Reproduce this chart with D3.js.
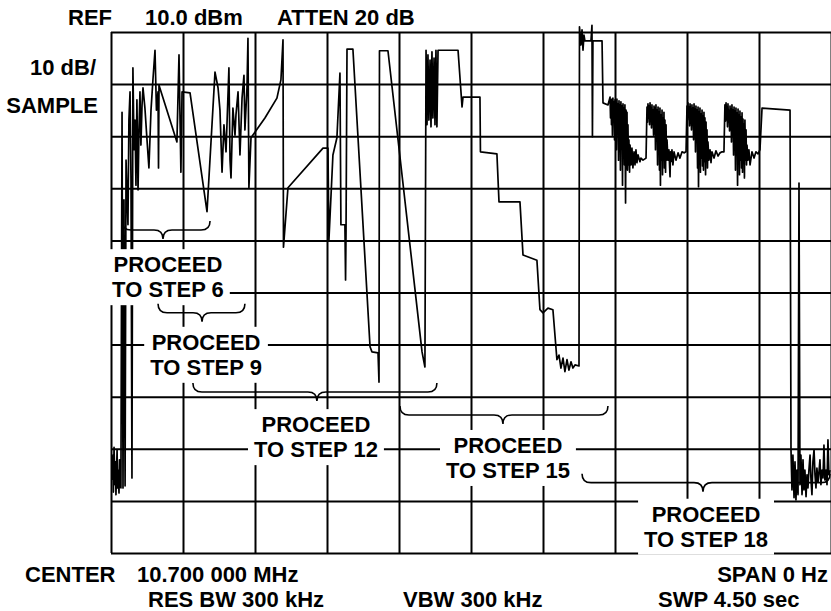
<!DOCTYPE html>
<html>
<head>
<meta charset="utf-8">
<script src="https://cdn.jsdelivr.net/npm/d3@7"></script>
<style>
  html, body { margin: 0; padding: 0; background: #fff; }
  svg { display: block; }
  text { font-family: "Liberation Sans", Arial, Helvetica, sans-serif; font-weight: bold; fill: #000; }
</style>
</head>
<body>
<svg id="chart" width="831" height="611"></svg>
<script>
// ---- Data (time in ms since sweep start, level in dBm) ----
const sweepMs = 4500;          // SWP 4.50 sec
const refLevelDbm = 10;        // REF 10.0 dBm
const dbPerDiv = 10;           // 10 dB/
const divisions = 10;

const headerLabels = ["REF", "10.0 dBm", "ATTEN 20 dB", "10 dB/", "SAMPLE"];
const footerLabels = ["CENTER", "10.700 000 MHz", "SPAN 0 Hz", "RES BW 300 kHz", "VBW 300 kHz", "SWP 4.50 sec"];
const stepLabels = [
  ["PROCEED", "TO STEP 6"],
  ["PROCEED", "TO STEP 9"],
  ["PROCEED", "TO STEP 12"],
  ["PROCEED", "TO STEP 15"],
  ["PROCEED", "TO STEP 18"]
];
// brace spans: [startMs, endMs, tipMs, levelDbm]
const braceSpans = [
  [69, 619, 325, -28.0],
  [294, 837, 569, -43.9],
  [512, 2037, 1287, -59.1],
  [1806, 3106, 2450, -63.5],
  [2944, 4494, 3700, -76.5]
];

const trace = [
  [6,-76.0],[12,-71.2],[15,-78.3],[19,-69.7],[25,-76.9],[28,-72.5],[31,-78.8],[38,-70.2],[41,-77.5],[44,-74.1],
  [50,-78.5],[53,-72.1],[56,-76.9],[62,-77.5],[69,-5.4],[75,-77.5],[81,-22.2],[88,-77.1],[94,-14.6],[106,-27.0],
  [112,-6.9],[119,-1.5],[125,-18.4],[131,-75.6],[137,3.1],[144,-12.6],[150,-6.9],[156,-19.4],[162,-3.0],[169,-20.3],
  [175,-8.8],[181,-1.5],[187,-11.7],[194,-4.0],[200,-0.7],[212,-4.6],[225,-10.7],[237,-16.1],[250,-5.0],[262,0.8],
  [275,6.5],[284,-5.0],[294,-1.5],[297,-16.1],[300,-0.2],[412,-11.1],[425,5.6],[437,-16.9],[444,-1.5],[494,-1.7],
  [600,-24.5],[650,2.3],[669,-0.7],[681,-5.0],[694,-16.9],[706,-7.8],[719,-13.0],[737,3.1],[744,-14.6],[750,-18.0],
  [762,-4.6],[775,-9.8],[781,-5.9],[794,-1.5],[806,-13.6],[819,-2.7],[831,1.7],[837,-8.8],[850,-0.7],[856,8.8],
  [862,-19.9],[875,-10.3],[962,-6.5],[1037,-2.7],[1062,0.8],[1075,8.5],[1078,-31.3],[1106,-19.9],[1325,-12.3],[1356,-12.3],
  [1362,-29.9],[1387,-13.6],[1412,-10.3],[1431,2.1],[1437,-27.0],[1462,-27.0],[1466,-37.6],[1469,-28.0],[1475,6.7],[1512,6.7],
  [1619,-50.4],[1631,-51.4],[1669,-51.6],[1675,-57.2],[1678,6.4],[1731,6.4],[1944,-51.4],[1962,-54.3],[1969,6.5],[1975,-7.8],
  [1981,5.6],[1987,-6.9],[1994,4.6],[2000,-8.2],[2006,6.2],[2012,-6.5],[2019,5.0],[2025,-7.8],[2031,6.5],[2037,-8.2],
  [2044,6.5],[2169,6.5],[2194,-4.4],[2200,-2.5],[2306,-2.5],[2309,-13.0],[2412,-13.4],[2425,-22.6],[2556,-22.6],[2575,-32.8],
  [2662,-33.8],[2681,-43.3],[2700,-43.9],[2731,-43.0],[2762,-43.3],[2787,-52.9],[2800,-52.0],[2812,-54.5],[2825,-52.6],[2837,-55.2],
  [2850,-52.9],[2862,-54.9],[2875,-53.3],[2887,-54.5],[2900,-53.9],[2925,-54.1],[2928,11.0],[2937,7.5],[2944,10.4],[2950,6.5],
  [2956,9.4],[2962,8.3],[3000,8.3],[3006,11.3],[3009,-10.1],[3012,8.3],[3069,8.3],[3075,-3.6],[3106,-4.0],
  // burst 1
  [3119,-2.5],[3122,-6.5],[3125,-3.0],[3128,-7.8],[3131,-2.9],[3134,-9.8],[3137,-2.7],[3141,-6.9],[3144,-3.4],[3147,-10.7],
  [3150,-3.0],[3153,-8.4],[3156,-3.6],[3159,-12.6],[3162,-2.9],[3166,-9.2],[3169,-3.8],[3172,-14.6],[3175,-3.2],[3178,-10.3],
  [3181,-4.0],[3184,-16.5],[3187,-3.4],[3191,-11.7],[3194,-4.2],[3197,-19.4],[3200,-3.8],[3203,-12.6],[3206,-4.6],[3209,-15.5],
  [3212,-4.0],[3216,-22.8],[3219,-5.0],[3222,-14.6],[3225,-5.4],[3228,-16.5],[3231,-7.8],[3234,-15.5],[3237,-10.7],[3241,-16.9],
  [3244,-11.7],[3250,-15.5],[3256,-12.3],[3262,-16.1],[3269,-13.0],[3275,-15.5],[3281,-12.6],[3287,-15.1],[3294,-13.6],[3306,-14.9],
  [3312,-14.2],[3325,-14.6],[3344,-14.2],
  // burst 2
  [3350,-4.4],[3353,-7.3],[3356,-3.8],[3359,-6.5],[3362,-4.2],[3366,-7.8],[3369,-3.6],[3372,-6.9],[3375,-4.6],[3378,-8.4],
  [3381,-4.0],[3384,-7.7],[3387,-5.0],[3391,-9.8],[3394,-4.2],[3397,-8.8],[3400,-4.6],[3403,-12.6],[3406,-4.0],[3409,-10.7],
  [3412,-5.0],[3416,-15.5],[3419,-4.4],[3422,-11.7],[3425,-5.4],[3428,-16.5],[3431,-4.6],[3434,-19.4],[3437,-5.9],[3441,-14.6],
  [3444,-5.0],[3447,-17.4],[3450,-6.5],[3453,-14.6],[3456,-5.4],[3459,-16.1],[3462,-6.9],[3466,-16.9],[3469,-7.8],[3472,-14.6],
  [3475,-10.7],[3481,-14.6],[3487,-12.6],[3494,-17.8],[3497,-13.0],[3500,-14.9],[3506,-12.6],[3512,-15.5],[3519,-13.0],[3531,-14.6],
  [3544,-13.2],[3556,-14.2],[3569,-13.0],[3581,-13.2],[3594,-13.0],
  // burst 3
  [3600,-4.2],[3603,-6.9],[3606,-3.6],[3609,-6.3],[3612,-4.4],[3616,-8.0],[3619,-3.8],[3622,-6.5],[3625,-4.8],[3628,-8.8],
  [3631,-4.0],[3634,-7.3],[3637,-4.6],[3641,-10.7],[3644,-3.8],[3647,-8.4],[3650,-4.8],[3653,-13.0],[3656,-4.2],[3659,-11.1],
  [3662,-5.0],[3666,-16.1],[3669,-4.4],[3672,-19.7],[3675,-5.4],[3678,-13.6],[3681,-4.6],[3684,-16.9],[3687,-5.7],[3691,-14.2],
  [3694,-5.0],[3697,-15.7],[3700,-6.1],[3703,-16.5],[3706,-5.4],[3709,-14.9],[3712,-6.5],[3716,-17.4],[3719,-7.3],[3722,-14.6],
  [3725,-8.8],[3728,-16.1],[3731,-11.1],[3737,-14.6],[3744,-12.6],[3750,-15.1],[3756,-13.0],[3769,-14.2],[3781,-12.8],[3794,-13.8],
  [3806,-13.2],[3819,-13.0],[3831,-13.0],
  // burst 4
  [3837,-4.0],[3841,-7.1],[3844,-3.6],[3847,-6.1],[3850,-4.4],[3853,-8.2],[3856,-3.8],[3859,-6.7],[3862,-5.0],[3866,-9.0],
  [3869,-4.2],[3872,-7.5],[3875,-4.8],[3878,-11.1],[3881,-4.0],[3884,-8.8],[3887,-5.0],[3891,-13.6],[3894,-4.4],[3897,-11.7],
  [3900,-5.2],[3903,-16.5],[3906,-4.6],[3909,-12.6],[3912,-5.5],[3916,-19.4],[3919,-4.8],[3922,-14.2],[3925,-5.9],[3928,-17.4],
  [3931,-5.2],[3934,-14.6],[3937,-6.3],[3941,-16.1],[3944,-5.5],[3947,-16.9],[3950,-6.7],[3953,-15.1],[3956,-7.7],[3959,-18.0],
  [3962,-6.9],[3966,-14.6],[3969,-8.8],[3972,-15.5],[3975,-11.7],[3981,-14.6],[3987,-12.6],[3994,-15.5],[4006,-13.0],[4019,-14.2],
  [4031,-13.0],[4044,-13.4],[4056,-12.6],
  // plateau and drop
  [4069,-4.6],[4244,-5.0],[4250,-70.2],[4256,-77.9],[4262,-71.2],[4269,-79.4],
  [4275,-72.5],[4281,-79.8],[4287,-74.1],[4294,-78.8],[4300,-19.0],[4306,-76.9],[4312,-71.2],[4319,-78.8],[4325,-72.1],[4331,-77.9],
  [4337,-74.1],[4344,-79.2],[4350,-75.0],[4356,-77.5],[4362,-74.1],[4369,-71.2],[4375,-76.0],[4381,-78.8],[4387,-72.5],[4394,-70.2],
  [4400,-75.0],[4406,-77.5],[4412,-73.7],[4419,-76.4],[4425,-74.4],[4431,-72.1],[4437,-76.9],[4444,-74.1],[4450,-75.6],[4456,-69.3],
  [4462,-76.0],[4469,-74.1],[4475,-76.9],[4481,-68.3],[4487,-75.0],[4494,-74.1]
];

// ---- Layout ----
const svg = d3.select("#chart");
const plot = { left: 111, right: 831, top: 32, bottom: 553 };
const x = d3.scaleLinear().domain([0, sweepMs]).range([plot.left, plot.right]);
const y = d3.scaleLinear().domain([refLevelDbm - dbPerDiv * divisions, refLevelDbm]).range([plot.bottom, plot.top]);

const gridColor = "#000";

// vertical grid
svg.append("g")
  .attr("transform", `translate(0,${plot.bottom})`)
  .call(d3.axisBottom(x)
    .tickValues(d3.range(0, sweepMs + 1, sweepMs / divisions))
    .tickSize(-(plot.bottom - plot.top))
    .tickFormat(""))
  .call(g => g.select(".domain").remove())
  .call(g => g.selectAll(".tick line").attr("stroke", gridColor).attr("stroke-width", 2));

// horizontal grid
svg.append("g")
  .attr("transform", `translate(${plot.left},0)`)
  .call(d3.axisLeft(y)
    .tickValues(d3.range(refLevelDbm - dbPerDiv * divisions, refLevelDbm + 1, dbPerDiv))
    .tickSize(-(plot.right - plot.left))
    .tickFormat(""))
  .call(g => g.select(".domain").remove())
  .call(g => g.selectAll(".tick line").attr("stroke", gridColor).attr("stroke-width", 2));

// trace
const line = d3.line().x(d => x(d[0])).y(d => y(d[1]));
svg.append("path")
  .datum(trace)
  .attr("d", line)
  .attr("fill", "none")
  .attr("stroke", "#000")
  .attr("stroke-width", 1.7)
  .attr("stroke-linejoin", "round");

// step annotations (label centres in ms / dBm)
const labelPos = [
  [356, -36.1],
  [594, -51.0],
  [1281, -66.8],
  [2481, -70.8],
  [3719, -84.0]
];
const fs = 22;
const lineGap = 25;
const annG = svg.append("g");
stepLabels.forEach((lines, i) => {
  const g = annG.append("g");
  const bg = g.append("rect").attr("fill", "#fff");
  const cx = x(labelPos[i][0]);
  const by = y(labelPos[i][1]);
  lines.forEach((s, k) => {
    g.append("text")
      .attr("x", cx).attr("y", by + k * lineGap)
      .attr("text-anchor", "middle")
      .attr("font-size", fs)
      .text(s);
  });
  const bb = g.node().getBBox();
  bg.attr("x", bb.x - 6).attr("y", bb.y - 3).attr("width", bb.width + 12).attr("height", bb.height + 6);
});

// braces
function bracePath(x0, x1, xm, yh) {
  const h = 9, t = 9;
  return `M${x0},${yh - h} Q${x0},${yh} ${x0 + h},${yh} L${xm - t},${yh} Q${xm},${yh} ${xm},${yh + t}` +
         ` Q${xm},${yh} ${xm + t},${yh} L${x1 - h},${yh} Q${x1},${yh} ${x1},${yh - h}`;
}
svg.append("g").selectAll("path")
  .data(braceSpans)
  .join("path")
  .attr("d", d => bracePath(x(d[0]), x(d[1]), x(d[2]), y(d[3])))
  .attr("fill", "none")
  .attr("stroke", "#000")
  .attr("stroke-width", 1.6);

// header / footer text
function label(s, px, py, anchor) {
  svg.append("text").attr("x", px).attr("y", py)
    .attr("font-size", fs).attr("text-anchor", anchor || "start").text(s);
}
label(headerLabels[0], 68, 25);
label(headerLabels[1], 145, 25);
label(headerLabels[2], 277, 25);
label(headerLabels[3], 96, 75, "end");
label(headerLabels[4], 98, 113, "end");
label(footerLabels[0], 25, 582);
label(footerLabels[1], 137, 582);
label(footerLabels[2], 828, 582, "end");
label(footerLabels[3], 148, 607);
label(footerLabels[4], 403, 607);
label(footerLabels[5], 658, 607);
</script>
</body>
</html>
